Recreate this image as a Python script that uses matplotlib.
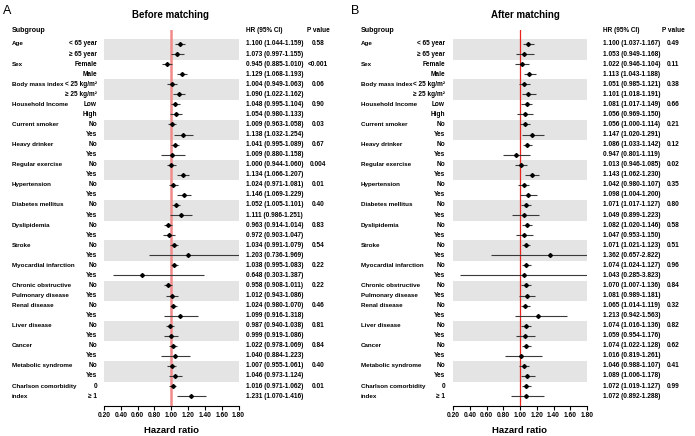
import numpy as np
import matplotlib
matplotlib.use('Agg')
import matplotlib.pyplot as plt
from matplotlib.font_manager import FontProperties
from matplotlib.transforms import blended_transform_factory

FP = FontProperties(family=['Liberation Sans', 'DejaVu Sans'], weight='bold')
TAM = 4.7

# ---- dados ----
grupos = [('Age', ''), ('Sex', ''), ('Body mass index', ''), ('Household Income', ''),
          ('Current smoker', ''), ('Heavy drinker', ''), ('Regular exercise', ''),
          ('Hypertension', ''), ('Diabetes mellitus', ''), ('Dyslipidemia', ''),
          ('Stroke', ''), ('Myocardial infarction', ''),
          ('Chronic obstructive', 'Pulmonary disease'), ('Renal disease', ''),
          ('Liver disease', ''), ('Cancer', ''), ('Metabolic syndrome', ''),
          ('Charlson comorbidity', 'index')]

subgrupos = (['< 65 year', '≥ 65 year', 'Female', 'Male', '< 25 kg/m²', '≥ 25 kg/m²', 'Low', 'High']
             + ['No', 'Yes'] * 13 + ['0', '≥ 1'])

hr_antes = [1.100, 1.073, 0.945, 1.129, 1.004, 1.090, 1.048, 1.054, 1.009, 1.138,
            1.041, 1.009, 1.000, 1.134, 1.024, 1.146, 1.052, 1.111, 0.963, 0.972,
            1.034, 1.203, 1.038, 0.648, 0.958, 1.012, 1.024, 1.099, 0.987, 0.999,
            1.022, 1.040, 1.007, 1.046, 1.016, 1.231]
lo_antes = [1.044, 0.997, 0.885, 1.068, 0.949, 1.022, 0.995, 0.980, 0.963, 1.032,
            0.995, 0.880, 0.944, 1.066, 0.971, 1.069, 1.005, 0.986, 0.914, 0.903,
            0.991, 0.736, 0.995, 0.303, 0.908, 0.943, 0.980, 0.916, 0.940, 0.919,
            0.978, 0.884, 0.955, 0.973, 0.971, 1.070]
hi_antes = [1.159, 1.155, 1.010, 1.193, 1.063, 1.162, 1.104, 1.133, 1.058, 1.254,
            1.089, 1.158, 1.060, 1.207, 1.081, 1.229, 1.101, 1.251, 1.014, 1.047,
            1.079, 1.969, 1.083, 1.387, 1.011, 1.086, 1.070, 1.318, 1.038, 1.086,
            1.069, 1.223, 1.061, 1.124, 1.062, 1.416]
p_antes = ['0.58', '<0.001', '0.06', '0.90', '0.03', '0.67', '0.004', '0.01', '0.40',
           '0.83', '0.54', '0.22', '0.22', '0.46', '0.81', '0.84', '0.40', '0.01']

hr_depois = [1.100, 1.053, 1.022, 1.113, 1.051, 1.101, 1.081, 1.056, 1.056, 1.147,
             1.086, 0.947, 1.013, 1.143, 1.042, 1.098, 1.071, 1.049, 1.082, 1.047,
             1.071, 1.362, 1.074, 1.043, 1.070, 1.081, 1.065, 1.213, 1.074, 1.059,
             1.074, 1.016, 1.046, 1.089, 1.072, 1.072]
lo_depois = [1.037, 0.949, 0.946, 1.043, 0.985, 1.018, 1.017, 0.969, 1.000, 1.020,
             1.033, 0.801, 0.946, 1.062, 0.980, 1.004, 1.017, 0.899, 1.020, 0.953,
             1.021, 0.657, 1.024, 0.285, 1.007, 0.989, 1.014, 0.942, 1.016, 0.954,
             1.022, 0.819, 0.988, 1.006, 1.019, 0.892]
hi_depois = [1.167, 1.168, 1.104, 1.188, 1.121, 1.191, 1.149, 1.150, 1.114, 1.291,
             1.142, 1.119, 1.085, 1.230, 1.107, 1.200, 1.127, 1.223, 1.146, 1.150,
             1.123, 2.822, 1.127, 3.823, 1.136, 1.181, 1.119, 1.563, 1.136, 1.176,
             1.128, 1.261, 1.107, 1.178, 1.127, 1.288]
p_depois = ['0.49', '0.11', '0.38', '0.66', '0.21', '0.12', '0.02', '0.35', '0.80',
            '0.58', '0.51', '0.96', '0.84', '0.32', '0.82', '0.62', '0.41', '0.99']

ticks = [0.20, 0.40, 0.60, 0.80, 1.00, 1.20, 1.40, 1.60, 1.80]

# ---- layout (pixels) ----
W, H = 695, 436
Y0, DY = 44.0, 10.06     # primeira linha e espaçamento
TOPO, BASE = 30.0, 406.0

fig = plt.figure(figsize=(W / 100, H / 100), dpi=100)


def fp(tam):
    f = FP.copy()
    f.set_size(tam)
    return f


def painel(letra, titulo, hr, lo, hi, pv, esq, dir, x_grupo, x_sub, x_hr, x_p, x_titulo, x_letra,
           cor_ref, lw_ref):
    ax = fig.add_axes([esq / W, 1 - BASE / H, (dir - esq) / W, (BASE - TOPO) / H])
    ax.set_xlim(0.2, 1.8)
    ax.set_ylim((BASE - Y0) / DY, (TOPO - Y0) / DY)
    n = len(hr)
    linhas = np.arange(n)

    # faixas cinzas nos grupos pares
    for g in range(0, len(grupos), 2):
        ax.axhspan(2 * g - 0.48, 2 * g + 1.55, color='#e4e4e4', lw=0, zorder=0)

    ax.axvline(1.0, color=cor_ref, lw=lw_ref, zorder=1)
    ax.hlines(linhas, lo, hi, color='#3a3a3a', lw=0.8, zorder=2)
    ax.plot(hr, linhas, 'D', ms=2.0, color='black', zorder=3)

    for s in ['left', 'top', 'right']:
        ax.spines[s].set_visible(False)
    ax.spines['bottom'].set_linewidth(0.8)
    ax.set_yticks([])
    ax.set_xticks(ticks)
    ax.set_xticklabels(['%.2f' % t for t in ticks], fontproperties=fp(4.8))
    ax.tick_params(axis='x', direction='out', length=3, width=0.8, pad=1.5)
    ax.set_xlabel('Hazard ratio', fontproperties=fp(6.8), labelpad=5)

    tr = blended_transform_factory(fig.transFigure, ax.transData)
    kw = dict(transform=tr, va='center', clip_on=False)
    for i in range(n):
        ax.text(x_sub / W, i, subgrupos[i], ha='right', fontproperties=fp(TAM), **kw)
        ax.text(x_hr / W, i, '%.3f (%.3f-%.3f)' % (hr[i], lo[i], hi[i]), ha='left',
                fontproperties=fp(TAM), **kw)
    for g, (l1, l2) in enumerate(grupos):
        ax.text(x_grupo / W, 2 * g, l1, ha='left', fontproperties=fp(4.5), **kw)
        if l2:
            ax.text(x_grupo / W, 2 * g + 1, l2, ha='left', fontproperties=fp(4.5), **kw)
        ax.text(x_p / W, 2 * g, pv[g], ha='center', fontproperties=fp(TAM), **kw)

    # cabeçalhos
    fig.text(x_grupo / W, 1 - 31 / H, 'Subgroup', fontproperties=fp(TAM + 0.4), va='center')
    fig.text(x_hr / W, 1 - 31 / H, 'HR (95% CI)', fontproperties=fp(TAM), va='center')
    fig.text(x_p / W, 1 - 30 / H, 'P value', fontproperties=fp(TAM), va='center', ha='center')
    fig.text(x_titulo / W, 1 - 15 / H, titulo, fontsize=7, fontweight='bold', ha='center', va='center',
             family=['Liberation Sans', 'DejaVu Sans'])
    fig.text(x_letra / W, 1 - 11 / H, letra, fontsize=9, ha='left', va='center',
             family=['Liberation Sans', 'DejaVu Sans'])
    return ax


painel('A', 'Before matching', hr_antes, lo_antes, hi_antes, p_antes,
       104, 238.5, 12, 97, 246, 318, 171, 3, '#f28b8b', 1.8)
painel('B', 'After matching', hr_depois, lo_depois, hi_depois, p_depois,
       453, 587, 361, 445, 603, 673, 525, 351, '#e8231c', 0.9)

fig.savefig('out.png', dpi=100)
